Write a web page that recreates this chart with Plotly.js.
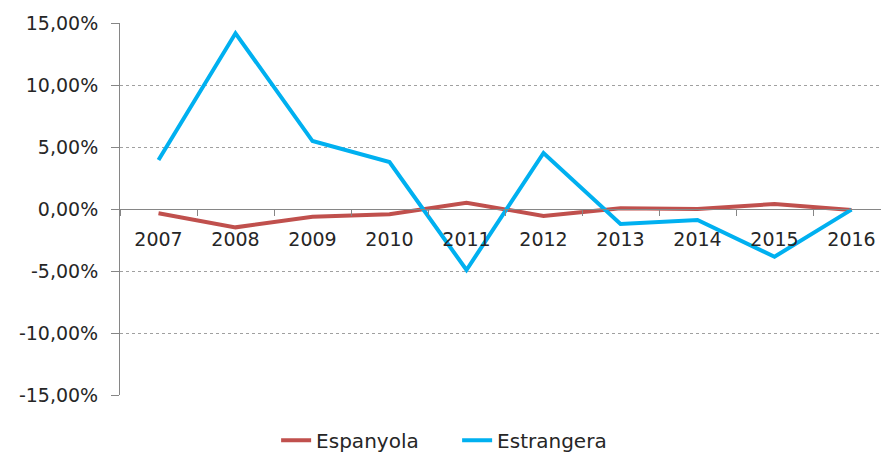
<!DOCTYPE html>
<html>
<head>
<meta charset="utf-8">
<script src="https://cdn.plot.ly/plotly-3.0.1.min.js"></script>
<style>html,body{margin:0;padding:0;background:#fff;}#chart{width:881px;height:453px;}</style>
</head>
<body>
<div id="chart"></div>
<script>
var years = ['2007','2008','2009','2010','2011','2012','2013','2014','2015','2016'];
var espanyola = [-0.35, -1.48, -0.62, -0.43, 0.51, -0.56, 0.06, 0.0, 0.40, -0.08];
var estrangera = [3.95, 14.17, 5.48, 3.79, -4.92, 4.52, -1.21, -0.89, -3.85, -0.05];
var yTickVals = [15, 10, 5, 0, -5, -10, -15];
var yTickText = ['15,00%', '10,00%', '5,00%', '0,00%', '-5,00%', '-10,00%', '-15,00%'];

var font = {family: 'DejaVu Sans, sans-serif', size: 19, color: '#262626'};
var legendFont = {family: 'DejaVu Sans, sans-serif', size: 20, color: '#262626'};

var traces = [
  {x: years, y: espanyola, name: 'Espanyola', type: 'scatter', mode: 'lines',
   line: {color: '#C0504D', width: 4}},
  {x: years, y: estrangera, name: 'Estrangera', type: 'scatter', mode: 'lines',
   line: {color: '#00B0F0', width: 4}}
];

var layout = {
  width: 881, height: 453,
  margin: {l: 120, r: 0, t: 23, b: 58, autoexpand: false},
  paper_bgcolor: '#fff', plot_bgcolor: '#fff',
  font: font,
  showlegend: true,
  legend: {orientation: 'h', xref: 'paper', x: 0.443, xanchor: 'center',
           yref: 'container', y: 0.028, yanchor: 'middle',
           font: legendFont, entrywidth: 136, entrywidthmode: 'pixels'},
  xaxis: {
    type: 'category', range: [-0.5, 9.383],
    anchor: 'free', position: 0.5, automargin: false,
    showline: true, linecolor: '#868686', linewidth: 1,
    ticks: 'outside', tickson: 'boundaries', ticklen: 6, tickcolor: '#868686',
    ticklabelstandoff: 13,
    showgrid: false, zeroline: false, tickfont: font, fixedrange: true
  },
  yaxis: {
    range: [-15, 15], tickvals: yTickVals, ticktext: yTickText, automargin: false,
    showline: true, linecolor: '#868686', linewidth: 1,
    ticks: 'outside', ticklen: 8, tickcolor: '#868686',
    ticklabelstandoff: 9,
    showgrid: true, gridcolor: '#a0a0a0', griddash: 'dot', gridwidth: 1,
    zeroline: false, tickfont: font, fixedrange: true
  }
};

Plotly.newPlot('chart', traces, layout, {staticPlot: true});
</script>
</body>
</html>
